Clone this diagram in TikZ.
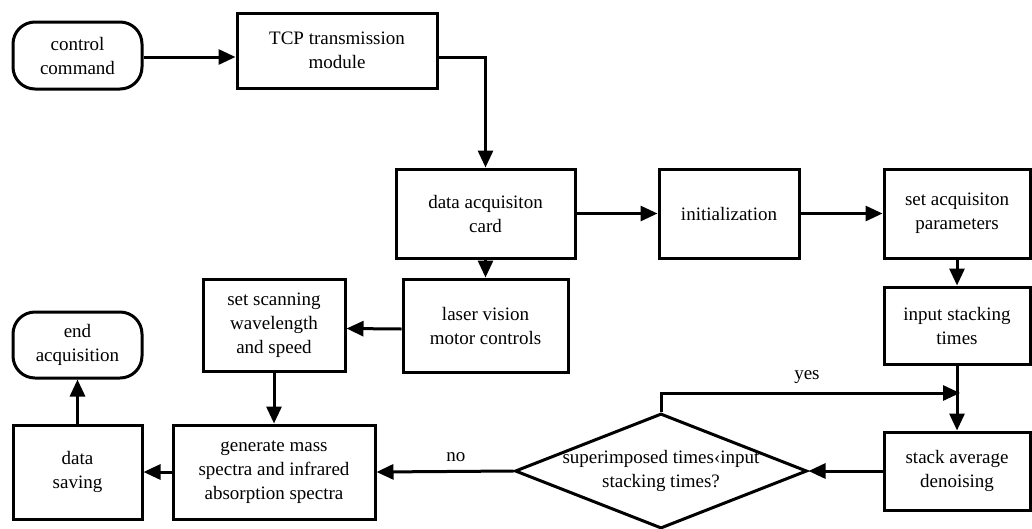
\documentclass[tikz,border=0pt]{standalone}
\usepackage{fontspec}
\setmainfont{Liberation Serif}
\newfontfamily\dfont{Liberation Serif}
\usetikzlibrary{arrows.meta,shapes.geometric,calc}
\begin{document}
\begin{tikzpicture}[x=1pt,y=-1pt,
  every node/.style={font=\dfont\fontsize{19}{24}\selectfont, align=center, inner sep=0pt},
  box/.style={draw, line width=3pt, rectangle},
  term/.style={draw, line width=3pt, rectangle, rounded corners=22pt},
  conn/.style={line width=3pt, -{Triangle[length=17pt,width=15pt]}}]
\useasboundingbox (0,0) rectangle (1032,528);
\node[term, minimum width=129pt, minimum height=67pt] (cc) at (77.5,55.5) {control\\command};
\node[box, minimum width=200pt, minimum height=75pt] (tcp) at (337,50.5) {TCP transmission\\module};
\node[box, minimum width=179pt, minimum height=89pt] (dac) at (485.5,213.5) {data acquisiton\\card};
\node[box, minimum width=140pt, minimum height=89pt] (ini) at (729,213.5) {initialization};
\node[box, minimum width=146pt, minimum height=89pt] (sap) at (957,213.5) {set acquisiton\\parameters};
\node[box, minimum width=165pt, minimum height=93pt] (lvm) at (485.5,325.5) {laser vision\\motor controls};
\node[box, minimum width=142pt, minimum height=92pt] (ssw) at (274,325) {set scanning\\wavelength\\and speed};
\node[box, minimum width=146pt, minimum height=77pt] (ist) at (957,325.5) {input stacking\\times};
\node[term, minimum width=129pt, minimum height=66pt] (ea) at (77.5,345) {end\\acquisition};
\node[box, minimum width=129pt, minimum height=94pt] (ds) at (77.5,472) {data\\saving};
\node[box, minimum width=202pt, minimum height=94pt] (gms) at (274,472) {generate mass\\spectra and infrared\\absorption spectra};
\node[box, minimum width=146pt, minimum height=78pt] (sad) at (957,471) {stack average\\denoising};
\node[draw, line width=3pt, shape=diamond, minimum width=292pt, minimum height=115pt, inner sep=0pt] (dia) at (661,471) {};
\node (diat) at (661,471) {superimposed times‹input\\stacking times?};
\coordinate (j) at (960,393);
\draw[conn] ($(cc.east)+(0,1.5)$) -- ($(tcp.west)+(0,6.5)$);
\draw[conn] ($(tcp.east)+(0,6.5)$) -| (dac.north);
\draw[conn] (dac) -- (ini);
\draw[conn] (ini) -- (sap);
\draw[conn] (dac) -- (lvm);
\draw[conn] (sap) -- (ist);
\draw[conn] ($(lvm.west)+(0,3.5)$) -- ($(ssw.east)+(0,3.5)$);
\draw[conn] (ssw) -- (gms);
\draw[conn] (gms) -- (ds);
\draw[conn] (ds) -- (ea);
\draw[conn] (ist) -- (sad);
\draw[conn] (dia.north) |- (j) node[pos=0.744, above=8pt] {yes};
\draw[conn] (sad.west) -- (dia.east);
\draw[conn] (dia.west) -- (gms.east) node[pos=0.42, above=8pt] {no};
\end{tikzpicture}
\end{document}
